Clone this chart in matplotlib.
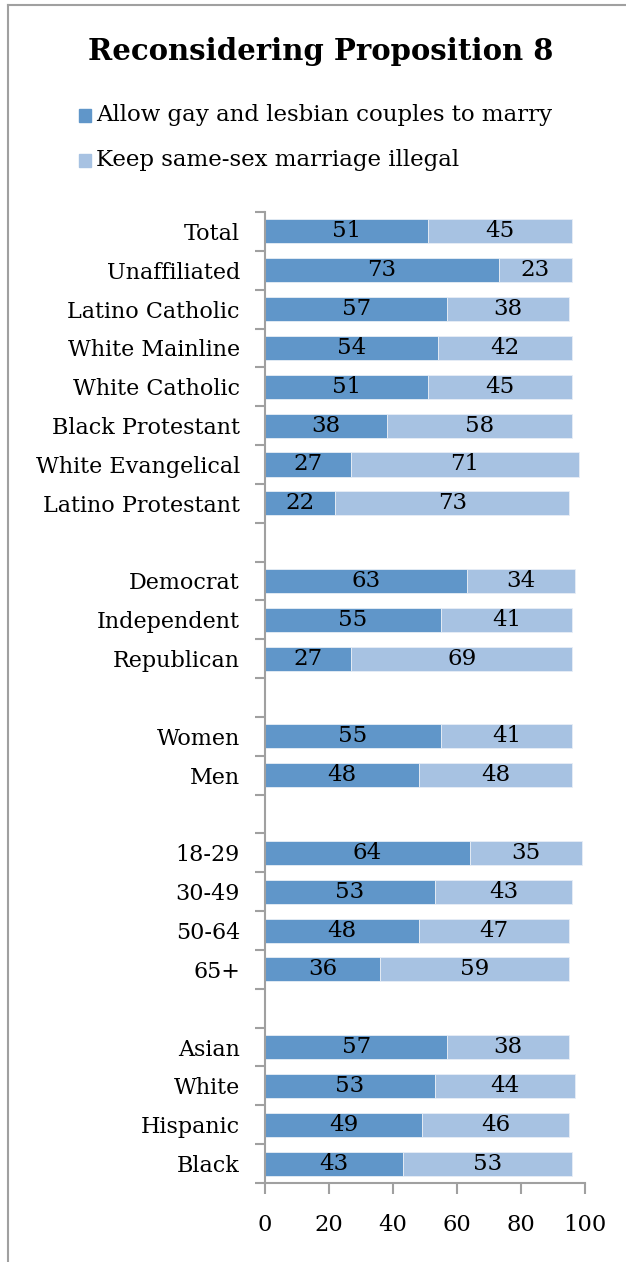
import matplotlib.pyplot as plt
from matplotlib.patches import Rectangle
import numpy as np

categories = ['Total', 'Unaffiliated', 'Latino Catholic', 'White Mainline',
              'White Catholic', 'Black Protestant', 'White Evangelical',
              'Latino Protestant',
              'Democrat', 'Independent', 'Republican',
              'Women', 'Men',
              '18-29', '30-49', '50-64', '65+',
              'Asian', 'White', 'Hispanic', 'Black']
allow = [51, 73, 57, 54, 51, 38, 27, 22,
         63, 55, 27,
         55, 48,
         64, 53, 48, 36,
         57, 53, 49, 43]
keep = [45, 23, 38, 42, 45, 58, 71, 73,
        34, 41, 69,
        41, 48,
        35, 43, 47, 59,
        38, 44, 46, 53]
group_sizes = [8, 3, 2, 4, 4]
series = ['Allow gay and lesbian couples to marry', 'Keep same-sex marriage illegal']

dark = '#6096c9'
light = '#a7c2e2'
gray = '#a0a0a0'
font = 'DejaVu Serif'

# row positions with one empty row between groups
pos = []
row = 0
for g in group_sizes:
    for i in range(g):
        pos.append(row)
        row += 1
    row += 1
nrows = row - 1

fig = plt.figure(figsize=(6.26, 12.62), dpi=100)
ax = fig.add_axes([0.4233, 0.0626, 0.5112, 0.7694])

ax.barh(pos, allow, height=0.62, color=dark, edgecolor='#e8eef6', linewidth=0.6)
ax.barh(pos, keep, left=allow, height=0.62, color=light, edgecolor='#e8eef6', linewidth=0.6)

for y, a, k in zip(pos, allow, keep):
    ax.text(a / 2, y, str(a), ha='center', va='center', fontsize=16.5, family=font)
    ax.text(a + k / 2, y, str(k), ha='center', va='center', fontsize=16.5, family=font)

ax.set_xlim(0, 100)
ax.set_ylim(nrows - 0.5, -0.5)
ax.set_xticks(np.arange(0, 101, 20))
ax.set_yticks(pos)
ax.set_yticklabels(categories)
ax.set_yticks(np.arange(-0.5, nrows, 1), minor=True)
ax.tick_params(axis='y', which='major', length=0, pad=18, labelsize=16)
ax.tick_params(axis='y', which='minor', length=7, width=1.5, color=gray)
ax.tick_params(axis='x', length=8, width=1.5, color=gray, pad=14, labelsize=16.3)
for lab in ax.get_xticklabels() + ax.get_yticklabels():
    lab.set_family(font)
for s in ['top', 'right']:
    ax.spines[s].set_visible(False)
for s in ['left', 'bottom']:
    ax.spines[s].set_color(gray)
    ax.spines[s].set_linewidth(1.5)

fig.text(0.513, 0.959, 'Reconsidering Proposition 8', ha='center', va='center',
         fontsize=21, fontweight='bold', family=font)

# legend
for j, (lab, col) in enumerate(zip(series, [dark, light])):
    yc = 1 - (115 + 45 * j) / 1262
    fig.patches.append(Rectangle((79 / 626, yc - 7 / 1262), 12 / 626, 13 / 1262,
                                 transform=fig.transFigure, color=col))
    fig.text(96 / 626, yc, lab, ha='left', va='center', fontsize=16.5, family=font)

# chart border
fig.add_artist(plt.Line2D([8 / 626, 8 / 626], [0, 1 - 5 / 1262], color=gray, lw=1.5,
                          transform=fig.transFigure))
fig.add_artist(plt.Line2D([8 / 626, 1], [1 - 5 / 1262, 1 - 5 / 1262], color=gray, lw=1.5,
                          transform=fig.transFigure))

fig.savefig('out.png', dpi=100)
